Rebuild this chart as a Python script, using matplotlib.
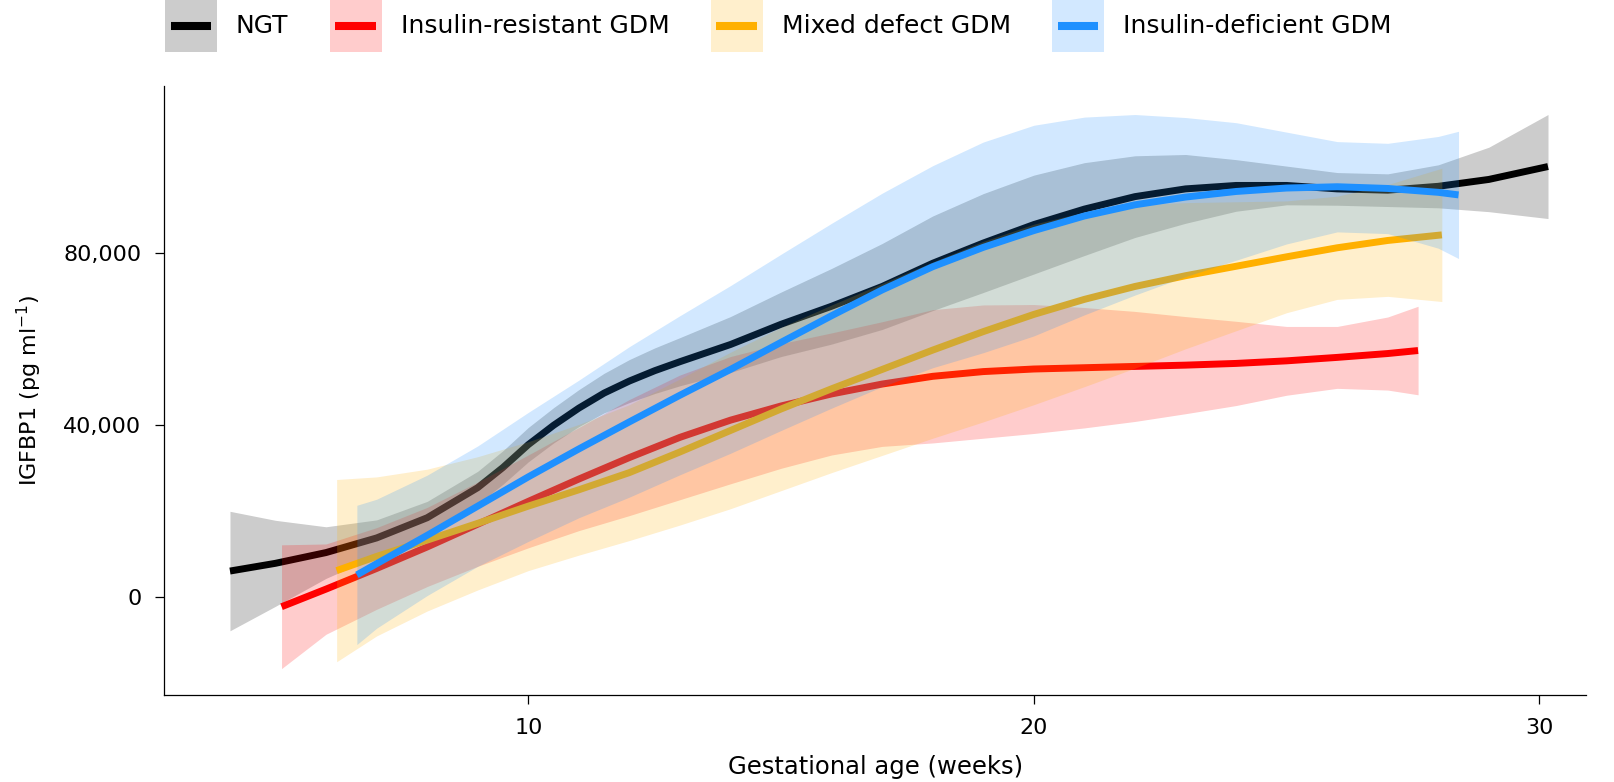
import numpy as np
import matplotlib
matplotlib.use('Agg')
import matplotlib.pyplot as plt
from matplotlib.patches import Rectangle
from matplotlib.lines import Line2D
from matplotlib.ticker import FuncFormatter

# Grupos y colores
groups = ['NGT', 'Insulin-resistant GDM', 'Mixed defect GDM', 'Insulin-deficient GDM']
colors = ['#000000', '#FF0000', '#FFB000', '#1E90FF']

# NGT: curva ajustada y semiancho del intervalo (pg/ml)
ngt_weeks = [4.1, 5, 6, 7, 8, 9, 9.5, 10, 10.5, 11, 11.5, 12, 12.5, 13, 14, 15, 16, 17, 18, 19,
             20, 21, 22, 23, 24, 25, 26, 27, 28, 29, 30.17]
ngt_fit = [6100, 7900, 10400, 13800, 18500, 25500, 30200, 35500, 40000, 44000, 47500, 50300, 52700,
           54800, 58800, 63500, 67700, 72300, 77700, 82400, 86700, 90300, 93200, 95000, 95800,
           95800, 95000, 94700, 95600, 97200, 100200]
ngt_half = [13900, 10000, 6000, 4200, 3800, 3800, 3900, 4000, 4100, 4300, 4600, 5000, 5300,
            5600, 6500, 7500, 8800, 10000, 11000, 11500, 11500, 10800, 9500, 8000, 6000,
            4500, 3800, 3800, 5000, 7500, 12100]

# Insulin-resistant GDM
ir_weeks = [5.12, 6, 7, 8, 9, 10, 11, 12, 13, 14, 15, 16, 17, 18, 19, 20, 21, 22, 23, 24, 25,
            26, 27, 27.6]
ir_fit = [-2200, 1900, 6700, 11700, 17000, 22300, 27500, 32500, 37200, 41200, 44500, 47300,
          49600, 51400, 52500, 53100, 53400, 53700, 54000, 54400, 55000, 55800, 56700, 57400]
ir_half = [14400, 10500, 9500, 9200, 9800, 10800, 12000, 13500, 14500, 14800, 14500, 14200,
           14500, 15500, 15500, 15000, 14000, 12800, 11300, 9800, 8000, 7200, 8500, 10300]

# Mixed defect GDM
mx_weeks = [6.21, 7, 8, 9, 10, 11, 12, 13, 14, 15, 16, 17, 18, 19, 20, 21, 22, 23, 24, 25, 26,
            27, 28.07]
mx_fit = [6200, 9500, 13300, 17200, 21200, 25000, 29000, 33800, 38800, 43800, 48500, 53000,
          57500, 61800, 65800, 69300, 72300, 74800, 77000, 79200, 81300, 83000, 84300]
mx_half = [21200, 18500, 16500, 15500, 15000, 15200, 15800, 17000, 18200, 19000, 19500, 20000,
           20500, 21000, 21000, 20300, 19000, 17000, 15000, 13000, 12000, 13000, 15500]

# Insulin-deficient GDM
id_weeks = [6.61, 7, 8, 9, 10, 11, 12, 13, 14, 15, 16, 17, 18, 19, 20, 21, 22, 23, 24, 25, 26,
            27, 28, 28.4]
id_fit = [5200, 7800, 14400, 21200, 28000, 34500, 40800, 47000, 53000, 59300, 65500, 71500,
          76900, 81400, 85300, 88700, 91300, 93100, 94400, 95200, 95500, 95100, 94200, 93600]
id_half = [16200, 15000, 14000, 14000, 15000, 16000, 17500, 18500, 19500, 20500, 21500, 22500,
           23500, 24500, 24500, 23000, 21000, 18500, 16000, 13000, 10500, 10500, 13000, 14800]

series = [(ngt_weeks, ngt_fit, ngt_half), (ir_weeks, ir_fit, ir_half),
          (mx_weeks, mx_fit, mx_half), (id_weeks, id_fit, id_half)]


# clave de leyenda: cuadro claro con la linea centrada
class KeyHandler:
    def legend_artist(self, legend, orig_handle, fontsize, handlebox):
        x0, y0 = -handlebox.xdescent, -handlebox.ydescent
        w, h = handlebox.width, handlebox.height
        col = orig_handle.get_color()
        rect = Rectangle((x0, y0), w, h, facecolor=col, alpha=0.2, edgecolor='none',
                         transform=handlebox.get_transform())
        line = Line2D([x0 + 0.11 * w, x0 + 0.89 * w], [y0 + h / 2, y0 + h / 2], color=col,
                      lw=5.8, solid_capstyle='butt', transform=handlebox.get_transform())
        handlebox.add_artist(rect)
        handlebox.add_artist(line)
        return rect


fig = plt.figure(figsize=(16.15, 7.82), dpi=100)
ax = fig.add_axes([0.1017, 0.1113, 0.8803, 0.7787])

# cinta + linea por grupo, en orden
for i, ((wk, fit, half), col) in enumerate(zip(series, colors)):
    wk = np.array(wk)
    fit = np.array(fit)
    half = np.array(half)
    ax.fill_between(wk, fit - half, fit + half, color=col, alpha=0.2, lw=0, zorder=2 * i + 1)
    ax.plot(wk, fit, color=col, lw=5, solid_capstyle='butt', solid_joinstyle='round',
            zorder=2 * i + 2)

ax.set_xlim(2.8, 30.92)
ax.set_ylim(-22725, 118930)
ax.set_xticks([10, 20, 30])
ax.set_yticks([0, 40000, 80000])
ax.yaxis.set_major_formatter(FuncFormatter(lambda v, p: f'{int(v):,}'))
ax.tick_params(axis='both', length=6.5, width=0.9, pad=10, labelsize=16, colors='black')
for s in ['top', 'right']:
    ax.spines[s].set_visible(False)
for s in ['left', 'bottom']:
    ax.spines[s].set_linewidth(0.9)

ax.set_xlabel('Gestational age (weeks)', fontsize=17.5, labelpad=12)
ax.set_ylabel('IGFBP1 (pg ml$^{-1}$)', fontsize=16, labelpad=14)

handles = [Line2D([], [], color=c) for c in colors]
fig.legend(handles, groups, loc='center left', bbox_to_anchor=(165 / 1615, 1 - 26 / 782),
           ncol=4, frameon=False, fontsize=18, handlelength=2.08, handleheight=2.82,
           handletextpad=0.76, columnspacing=1.65, borderpad=0, borderaxespad=0,
           handler_map={Line2D: KeyHandler()})

fig.savefig('out.png', dpi=100)
